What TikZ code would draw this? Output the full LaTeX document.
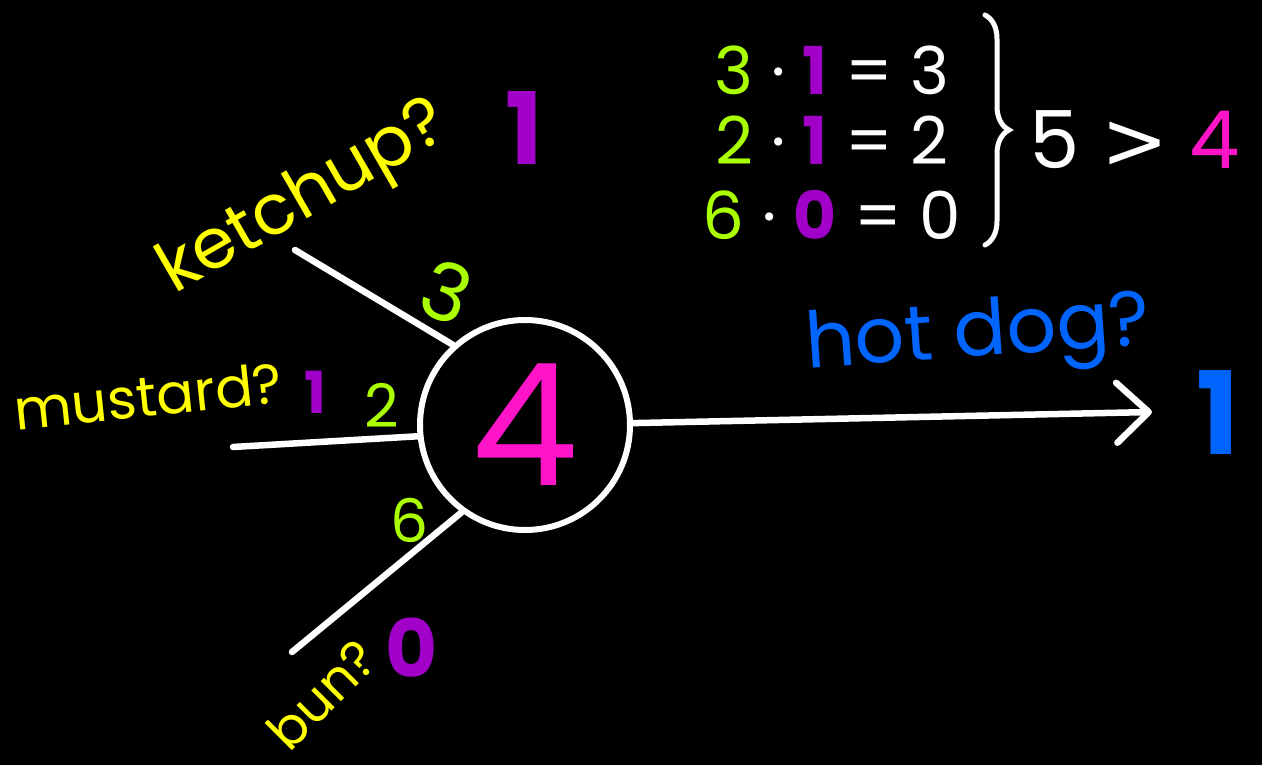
\documentclass[tikz,border=0pt]{standalone}
\usepackage{fontspec}
\setmainfont{Poppins}
\newfontfamily\gtfont{DejaVu Sans}
\usetikzlibrary{arrows.meta,decorations.pathreplacing}
\definecolor{yel}{RGB}{255,255,0}
\definecolor{wgt}{RGB}{170,255,0}
\definecolor{purp}{RGB}{160,0,200}
\definecolor{mag}{RGB}{255,20,200}
\definecolor{hdblue}{RGB}{0,100,255}
\newcommand{\sz}[1]{\fontsize{#1}{#1}\selectfont}

\begin{document}
\begin{tikzpicture}[x=1pt,y=1pt,
    wire/.style={draw=white,line width=6.5pt,line cap=round},
    lbl/.style={inner sep=0pt}]
    \fill[black] (0,0) rectangle (1262,-765);

    \node[circle,draw=white,line width=6pt,minimum size=210pt,inner sep=0pt,
          text=mag,font=\sz{170}] (neuron) at (525,-425) {4};

    \coordinate (in1) at (295,-250);
    \coordinate (in2) at (233,-447);
    \coordinate (in3) at (292,-652);
    \coordinate (out) at (1152,-412);

    \draw[wire] (in1) -- (neuron.132);
    \draw[wire] (in2) -- (neuron.186);
    \draw[wire] (in3) -- (neuron.234);
    \draw[wire,-{Straight Barb[length=32pt,width=60pt,round]}] (neuron.1) -- (out);

    \node[lbl,text=yel,font=\sz{70},rotate=30] (ketchup) at (305,-200) {ketchup?};
    \node[lbl,text=purp,font=\bfseries\sz{100}] (x1) at (524,-128) {1};
    \node[lbl,text=yel,font=\sz{56},rotate=6] (mustard) at (148,-396) {mustard?};
    \node[lbl,text=purp,font=\bfseries\sz{58}] (x2) at (315,-392) {1};
    \node[lbl,text=yel,font=\sz{52},rotate=45] (bun) at (322,-694) {bun?};
    \node[lbl,text=purp,font=\bfseries\sz{80}] (x3) at (412,-648) {0};

    \node[lbl,text=wgt,font=\sz{80},rotate=-20] (w1) at (447,-292) {3};
    \node[lbl,text=wgt,font=\sz{60}] (w2) at (382,-405) {2};
    \node[lbl,text=wgt,font=\sz{60}] (w3) at (410,-520) {6};

    \node[lbl,text=hdblue,font=\sz{78},rotate=4] (hotdog) at (978,-338) {hot dog?};
    \node[lbl,text=hdblue,font=\bfseries\sz{115}] (y) at (1218,-413) {1};

    \foreach \i/\w/\x/\p/\h in {1/3/1/3/70,2/2/1/2/140,3/6/0/0/215}{
        \node[lbl,text=white,font=\sz{66}] (eq\i) at (832,-\h)
            {{\color{wgt}\w} · {\color{purp}\bfseries\x} = \p};
    }
    \coordinate (brtop) at (985,-15);
    \coordinate (brbot) at (985,-245);
    \draw[white,line width=5pt,line cap=round,decorate,
          decoration={brace,amplitude=24pt}] (brtop) -- (brbot);
    \node[lbl,text=white,font=\sz{80}] (sum) at (1135,-140) {5 {\gtfont >} {\color{mag}4}};
\end{tikzpicture}
\end{document}
